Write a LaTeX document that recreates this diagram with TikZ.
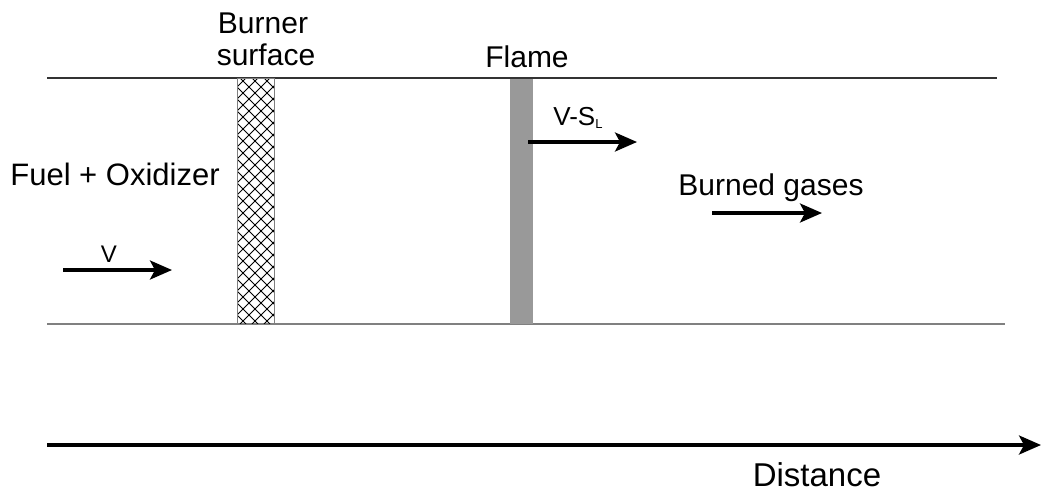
\documentclass[tikz,border=0pt]{standalone}
\usepackage{fontspec}
\setmainfont{Liberation Sans}
\usetikzlibrary{arrows.meta}
\tikzset{
  flow/.style={line width=1.6pt, -{Stealth[length=11pt,width=9.5pt,inset=2.5pt]}},
  lab/.style={font=\fontsize{15}{18}\selectfont, inner sep=0pt, anchor=base},
}
\begin{document}
\begin{tikzpicture}[x=.5pt, y=-.5pt]
    \useasboundingbox (0,0) rectangle (1042,493);
    \draw[line width=.7pt, black!80] (47,78) -- (997,78);
    \draw[line width=1pt, black!50] (47,324) -- (1005,324);

    \begin{scope}
      \clip (237,78) rectangle (274,324);
      \foreach \x in {-252,-240,...,288}
      {
        \draw[line width=.45pt] (\x,78) -- (\x+246,324);
        \draw[line width=.45pt] (\x,324) -- (\x+246,78);
      }
    \end{scope}
    \draw[line width=.4pt, black!50] (237,78) rectangle (274,324);
    \fill[black!40] (510,79) rectangle (533,324);

    \node[lab] (burner) at (263,33) {Burner};
    \node[lab] (surface) at (266,65) {surface};
    \node[lab] (flame) at (527,67) {Flame};
    \node[lab, font=\fontsize{15.5}{18}\selectfont] (fuelox) at (115,185) {Fuel + Oxidizer};
    \node[lab, font=\fontsize{12}{14}\selectfont] (vlab) at (109,262) {V};
    \node[lab, anchor=base west, font=\fontsize{13}{15}\selectfont] (vsl) at (553,125)
      {V-S\raisebox{-1.5pt}{\fontsize{6.5}{7}\selectfont L}};
    \node[lab] (burned) at (771,195) {Burned gases};
    \node[anchor=base, inner sep=0pt, font=\fontsize{16.5}{19}\selectfont] (distance) at (817,486) {Distance};

    \coordinate (vin) at (63,270);
    \coordinate (vout) at (172,270);
    \coordinate (slin) at (528,142);
    \coordinate (slout) at (637,142);
    \coordinate (bgin) at (712,213);
    \coordinate (bgout) at (822,213);
    \coordinate (xin) at (47,445);
    \coordinate (xout) at (1041,445);

    \draw[flow] (vin) -- (vout);
    \draw[flow] (slin) -- (slout);
    \draw[flow] (bgin) -- (bgout);
    \draw[flow] (xin) -- (xout);

\end{tikzpicture}
\end{document}
